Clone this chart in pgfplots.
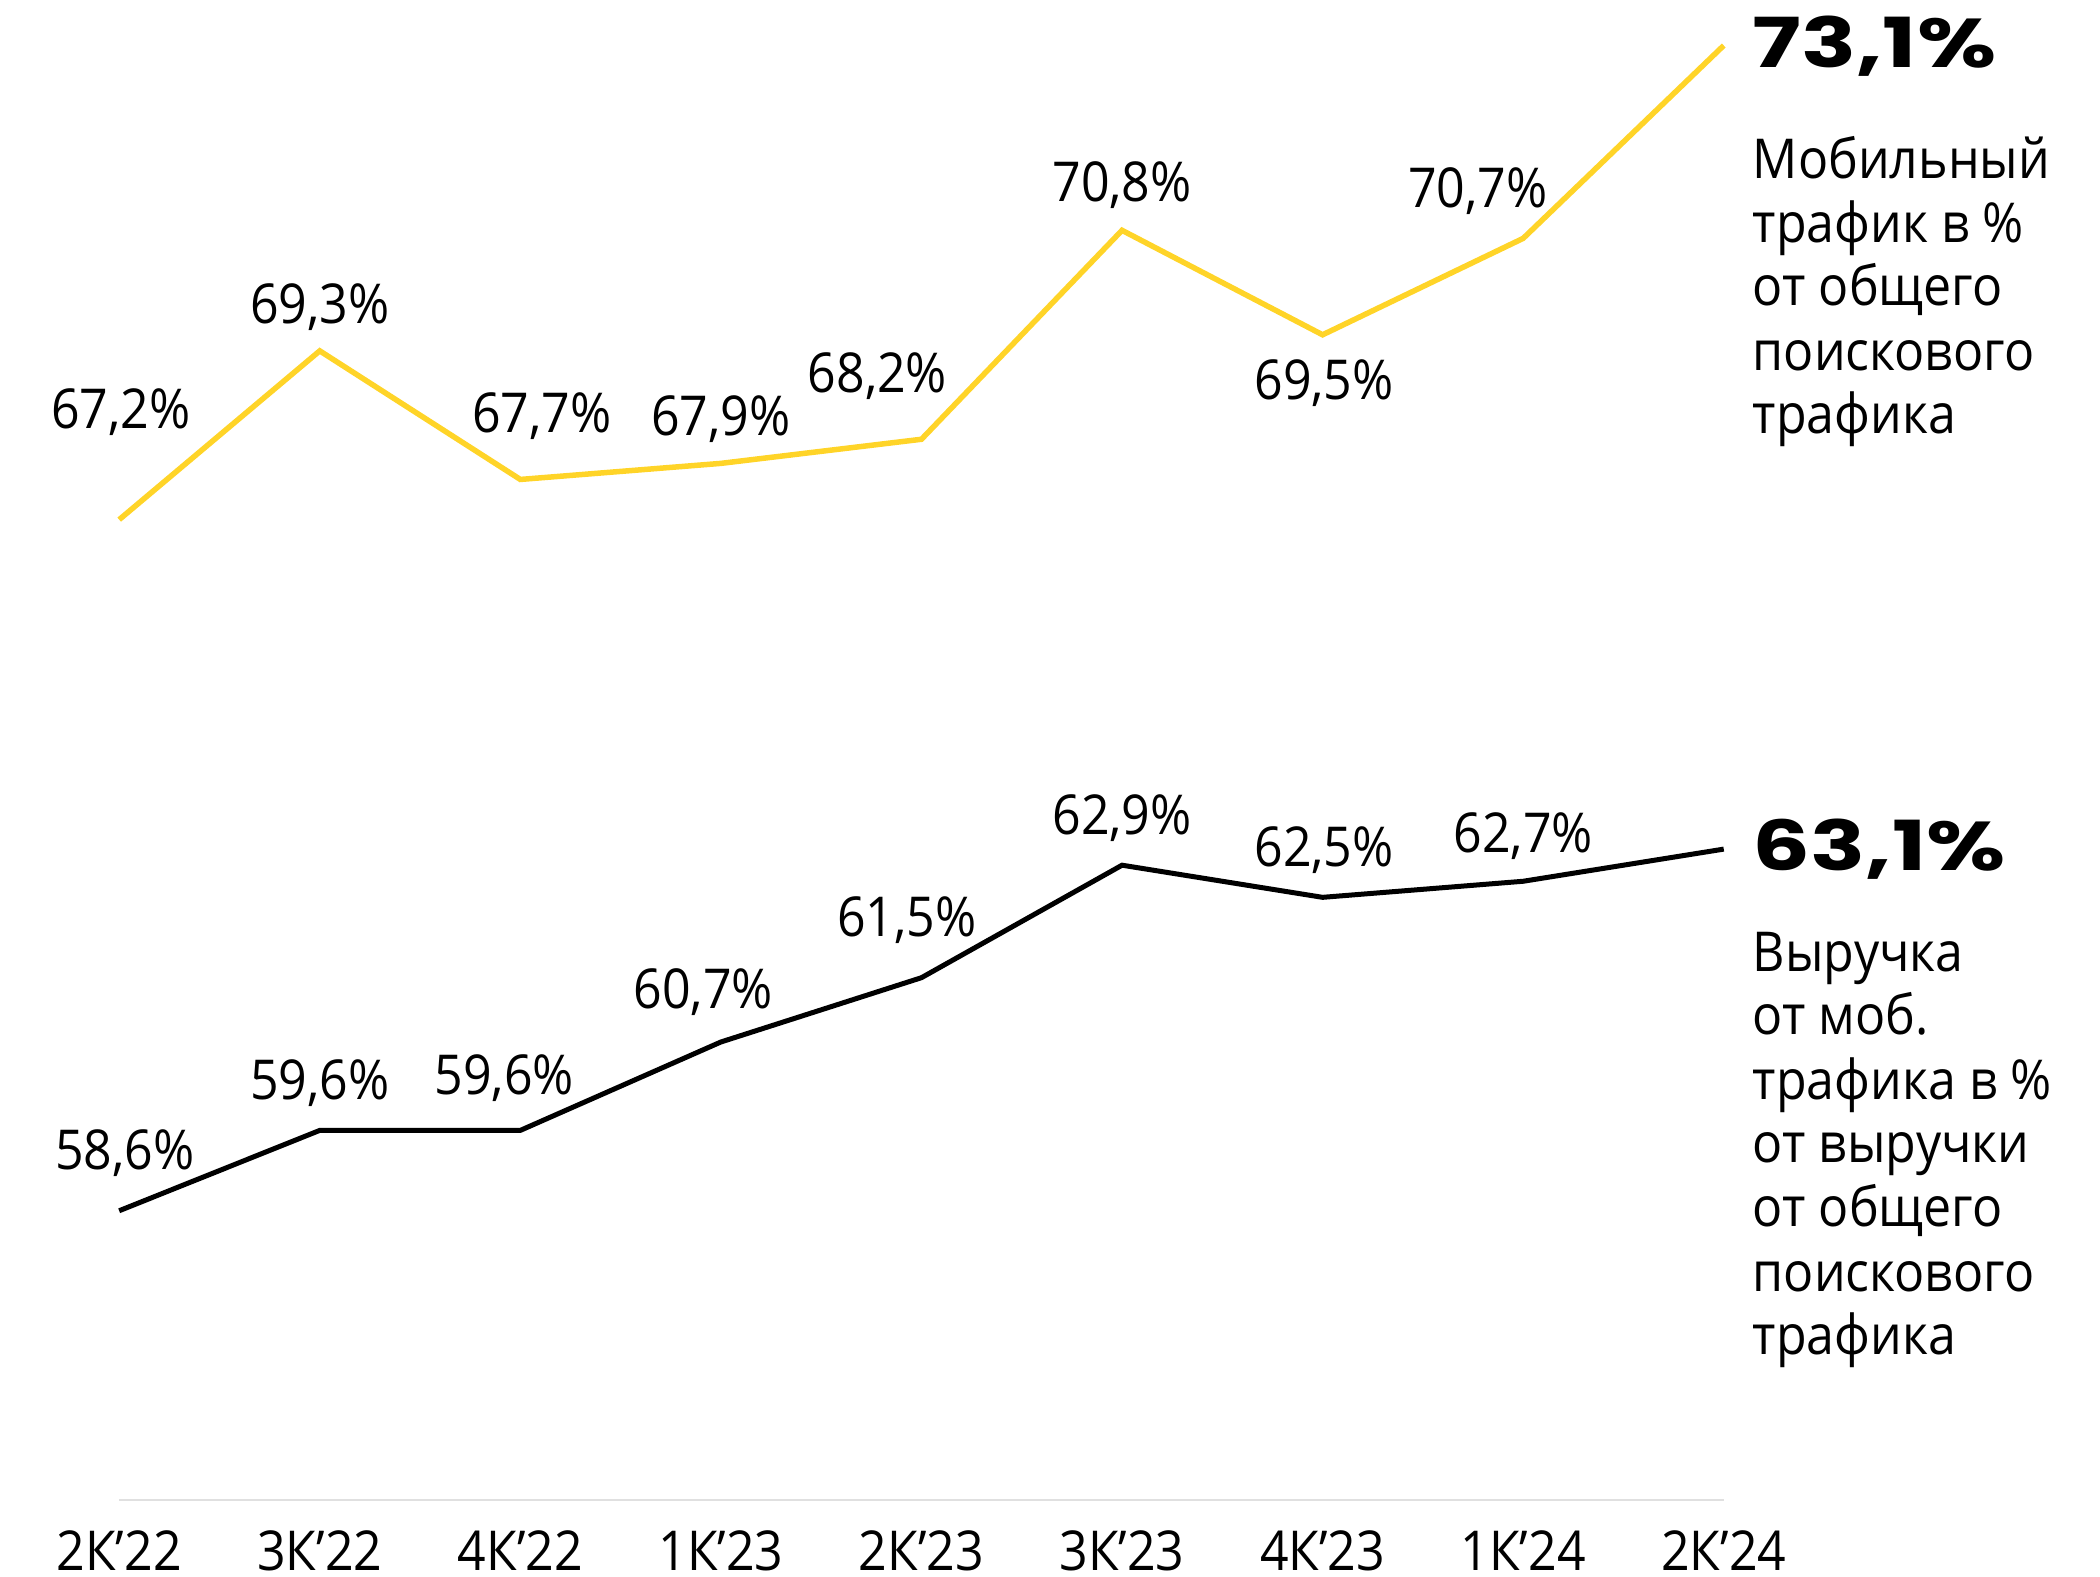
\documentclass[border=0pt]{standalone}
\usepackage{fontspec}
\setmainfont{Open Sans}[FakeStretch=0.91]
\newfontfamily\bignum{Poppins}[FakeStretch=1.32]
\usepackage{pgfplots}
\usepackage{pgfplotstable}
\pgfplotsset{compat=1.18}
\definecolor{yyel}{RGB}{255,212,40}
\definecolor{axgray}{RGB}{224,224,224}
\newcommand\mainsz{\fontsize{11pt}{12.8pt}\selectfont}
\newcommand\bigsz{\fontsize{13.8pt}{16pt}\selectfont}

\pgfplotstableread{
x y dx dy
0 67.2 0.3 21.4
1 69.3 0.0 8.8
2 67.7 4.3 12.6
3 67.9 0.0 8.8
4 68.2 -8.8 12.6
5 70.8 0.0 9.1
6 69.5 0.3 -9.6
7 70.7 -9.1 9.4
8 73.1 0.0 0.0
}\mob

\pgfplotstableread{
x y dx dy
0 58.6 1.1 11.5
1 59.6 0.0 9.4
2 59.6 -3.2 10.4
3 60.7 -3.5 9.9
4 61.5 -2.9 11.5
5 62.9 0.0 9.4
6 62.5 0.3 9.4
7 62.7 0.0 9.1
8 63.1 0.0 0.0
}\rev

\begin{document}
\begin{tikzpicture}[font=\mainsz]
\begin{axis}[
  scale only axis,
  width=320.9pt, height=300pt,
  xmin=0, xmax=8, ymin=55, ymax=73.666,
  axis y line=none,
  axis x line=bottom,
  x axis line style={-, draw=axgray, line width=0.45pt},
  xtick={0,...,8},
  xticklabels={2К’22,3К’22,4К’22,1К’23,2К’23,3К’23,4К’23,1К’24,2К’24},
  major tick length=0pt,
  xticklabel style={anchor=base, yshift=-14pt, font=\mainsz},
  ytick=\empty,
  clip=false,
  nodes near coords={\pgfmathprintnumber[fixed,fixed zerofill,precision=1,use comma,assume math mode=true]{\pgfplotspointmeta}\%},
  point meta=y,
  visualization depends on={\thisrow{dx} \as \dx},
  visualization depends on={\thisrow{dy} \as \dy},
  every node near coord/.append style={anchor=center, inner sep=0pt, xshift=\dx pt, yshift=\dy pt, font=\mainsz, text=black},
]
% value labels (points 0-7)
\addplot[draw=none, mark=none, x filter/.expression={x==8 ? nan : x}, forget plot] table[x=x,y=y] {\mob};
\addplot[draw=none, mark=none, x filter/.expression={x==8 ? nan : x}, forget plot] table[x=x,y=y] {\rev};
% lines
\addplot[yyel, line width=1.1pt, line join=miter, mark=none, nodes near coords={}] table[x=x,y=y] {\mob};
\addplot[black, line width=1pt, line join=miter, mark=none, nodes near coords={}] table[x=x,y=y] {\rev};

\node[anchor=base west, inner sep=0pt] at (axis cs:8.140,72.82) {\bignum\bfseries\bigsz 73,1\%};
\node[anchor=base west, inner sep=0pt] at (axis cs:8.140,71.45) {Мобильный};
\node[anchor=base west, inner sep=0pt] at (axis cs:8.140,70.65) {трафик в \%};
\node[anchor=base west, inner sep=0pt] at (axis cs:8.140,69.86) {от общего};
\node[anchor=base west, inner sep=0pt] at (axis cs:8.140,69.06) {поискового};
\node[anchor=base west, inner sep=0pt] at (axis cs:8.140,68.27) {трафика};

\node[anchor=base west, inner sep=0pt] at (axis cs:8.140,62.83) {\bignum\bfseries\bigsz 63,1\%};
\node[anchor=base west, inner sep=0pt] at (axis cs:8.140,61.58) {Выручка};
\node[anchor=base west, inner sep=0pt] at (axis cs:8.140,60.79) {от моб.};
\node[anchor=base west, inner sep=0pt] at (axis cs:8.140,59.99) {трафика в \%};
\node[anchor=base west, inner sep=0pt] at (axis cs:8.140,59.20) {от выручки};
\node[anchor=base west, inner sep=0pt] at (axis cs:8.140,58.40) {от общего};
\node[anchor=base west, inner sep=0pt] at (axis cs:8.140,57.60) {поискового};
\node[anchor=base west, inner sep=0pt] at (axis cs:8.140,56.81) {трафика};

\coordinate (BL) at (axis cs:-0.5943,54.054);
\coordinate (TR) at (axis cs:9.876,73.666);
\end{axis}
\pgfresetboundingbox
\path[use as bounding box] (BL) rectangle (TR);
\end{tikzpicture}
\end{document}
